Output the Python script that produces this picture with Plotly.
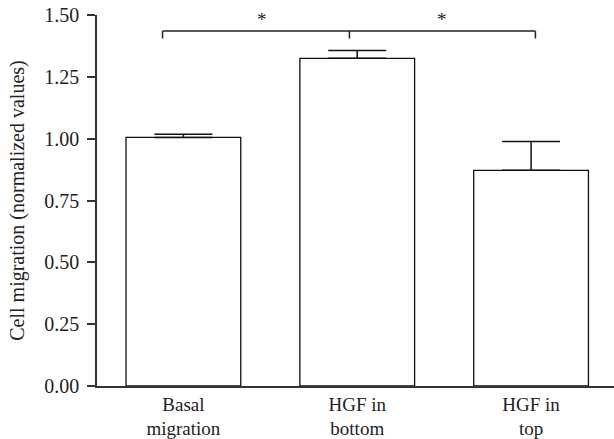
import plotly.graph_objects as go

categories = ["Basal<br>migration", "HGF in<br>bottom", "HGF in<br>top"]
means = [1.005, 1.325, 0.872]
sem = [0.013, 0.031, 0.117]

# significance bracket (data coordinates)
bracket_x = [-0.12, 0.955, 2.025]
bracket_y = 1.435
bracket_drop = 1.405
star_x = [0.45, 1.49]
star_y = 1.483

xpos = list(range(len(categories)))
font_family = "Liberation Serif, Times New Roman, serif"

fig = go.Figure()
fig.add_trace(go.Bar(
    x=xpos, y=means, width=0.66,
    marker=dict(color="white", line=dict(color="#111", width=1.3)),
    error_y=dict(type="data", array=sem, arrayminus=[0]*len(sem), symmetric=False,
                 color="#111", thickness=1.5, width=29),
    showlegend=False,
))

line = dict(color="#222", width=1.5)
fig.add_shape(type="line", x0=bracket_x[0], x1=bracket_x[2], y0=bracket_y, y1=bracket_y, line=line)
for bx in bracket_x:
    fig.add_shape(type="line", x0=bx, x1=bx, y0=bracket_y, y1=bracket_drop, line=line)
for sx in star_x:
    fig.add_annotation(x=sx, y=star_y, text="*", showarrow=False,
                       font=dict(family=font_family, size=19, color="#222"))

fig.update_layout(
    width=614, height=439,
    margin=dict(l=97, r=0, t=14.5, b=53.3, pad=0),
    plot_bgcolor="white", paper_bgcolor="white",
    font=dict(family=font_family, size=20, color="#222"),
    xaxis=dict(range=[-0.497, 2.477], tickvals=xpos, ticktext=categories,
               showline=True, linecolor="#333", linewidth=1.5, ticks="",
               showgrid=False, zeroline=False, tickfont=dict(size=19)),
    yaxis=dict(range=[0, 1.5], tickvals=[0, 0.25, 0.5, 0.75, 1.0, 1.25, 1.5],
               tickformat=".2f", showline=True, linecolor="#333", linewidth=1.5,
               ticks="outside", ticklen=8, tickwidth=1.5, tickcolor="#333",
               ticklabelstandoff=4,
               showgrid=False, zeroline=False, tickfont=dict(size=20),
               title=dict(text="Cell migration (normalized values)", font=dict(size=20), standoff=14)),
)

fig.write_html("out.html")
